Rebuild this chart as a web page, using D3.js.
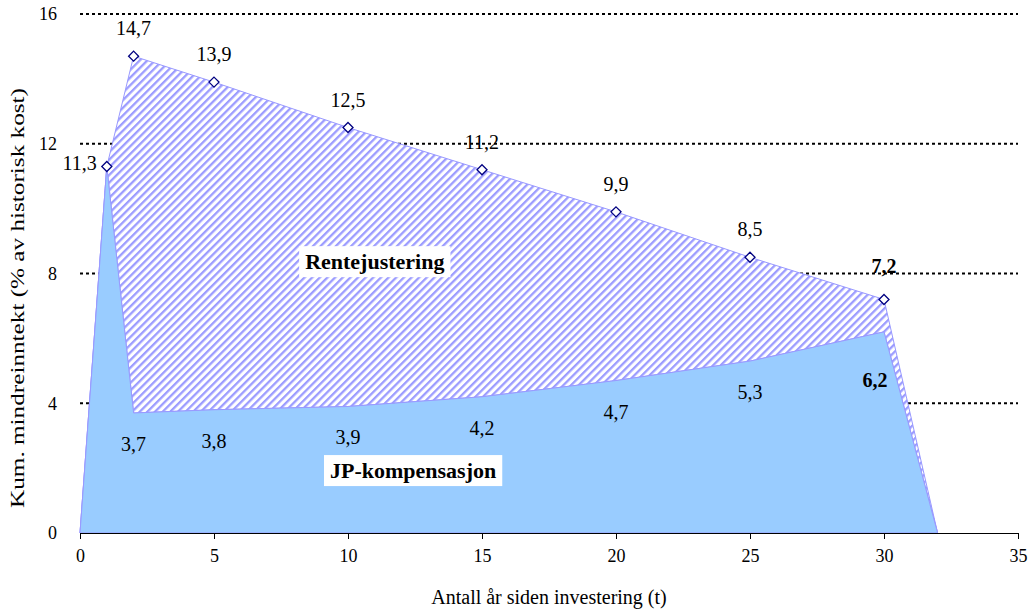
<!DOCTYPE html>
<html>
<head>
<meta charset="utf-8">
<script src="https://cdn.jsdelivr.net/npm/d3@7"></script>
<style>
  body { margin: 0; background: #fff; }
  text { font-family: "Liberation Serif", "Times New Roman", serif; fill: #000; }
</style>
</head>
<body>
<svg id="chart"></svg>
<script>
// år siden investering og kumulative verdier
const years = [0, 1, 2, 5, 10, 15, 20, 25, 30, 32];
const jpKomp = [0, 11.3, 3.7, 3.8, 3.9, 4.2, 4.7, 5.3, 6.2, 0];
const totalt = [0, 11.3, 14.7, 13.9, 12.5, 11.2, 9.9, 8.5, 7.2, 0];
const xTicks = [0, 5, 10, 15, 20, 25, 30, 35];
const yTicks = [0, 4, 8, 12, 16];
const boxLabels = ["Rentejustering", "JP-kompensasjon"];
const boxAt = [[11.0, 8.38], [12.43, 1.94]];

const width = 1031, height = 611;
const svg = d3.select("#chart")
    .attr("width", width)
    .attr("height", height);

const x = d3.scaleLinear().domain([0, 35]).range([80, 1018]);
const y = d3.scaleLinear().domain([0, 16]).range([533, 14]);

const fmt = v => String(v).replace(".", ",");

// hatch pattern for rentejustering
const defs = svg.append("defs");
defs.append("pattern")
    .attr("id", "hatch")
    .attr("patternUnits", "userSpaceOnUse")
    .attr("width", 5.4)
    .attr("height", 5.4)
    .attr("patternTransform", "rotate(45)")
  .call(p => {
    p.append("rect").attr("width", 5.4).attr("height", 5.4).attr("fill", "#fff");
    p.append("rect").attr("width", 2.3).attr("height", 5.4).attr("fill", "#9c9cff");
  });

// gridlines
svg.append("g")
    .selectAll("line")
    .data(yTicks.filter(d => d > 0))
    .enter()
    .append("line")
    .attr("x1", x(0))
    .attr("x2", x(35))
    .attr("y1", d => y(d))
    .attr("y2", d => y(d))
    .attr("stroke", "#000")
    .attr("stroke-width", 2.2)
    .attr("stroke-dasharray", "3,3");

const idx = d3.range(years.length);

const hatchArea = d3.area()
    .x(i => x(years[i]))
    .y0(i => y(jpKomp[i]))
    .y1(i => y(totalt[i]));

svg.append("path")
    .datum(idx)
    .attr("d", hatchArea)
    .attr("fill", "url(#hatch)")
    .attr("stroke", "#9999ff")
    .attr("stroke-width", 1);

const blueArea = d3.area()
    .x(i => x(years[i]))
    .y0(y(0))
    .y1(i => y(jpKomp[i]));

svg.append("path")
    .datum(idx)
    .attr("d", blueArea)
    .attr("fill", "#99ccff")
    .attr("stroke", "#9999ff")
    .attr("stroke-width", 1);

// x axis
const xAxis = d3.axisBottom(x)
    .tickValues(xTicks)
    .tickSize(6)
    .tickSizeOuter(0)
    .tickPadding(10)
    .tickFormat(d3.format("d"));

svg.append("g")
    .attr("transform", "translate(0," + y(0) + ")")
    .call(xAxis)
    .call(g => g.selectAll("text")
        .attr("font-family", "Liberation Serif")
        .attr("font-size", 18)
        .attr("fill", "#000"));

// y tick labels (no axis line)
const yAxis = d3.axisLeft(y)
    .tickValues(yTicks)
    .tickSize(0)
    .tickPadding(23)
    .tickFormat(d3.format("d"));

svg.append("g")
    .attr("transform", "translate(" + x(0) + ",0)")
    .call(yAxis)
    .call(g => g.select(".domain").remove())
    .call(g => g.selectAll("text")
        .attr("font-family", "Liberation Serif")
        .attr("font-size", 18)
        .attr("fill", "#000"));

// markers on the upper series
const marked = idx.filter(i => i > 0 && i < years.length - 1);
svg.append("g")
    .selectAll("path")
    .data(marked)
    .enter()
    .append("path")
    .attr("d", d3.symbol(d3.symbolDiamond2, 64)())
    .attr("transform", i => "translate(" + x(years[i]) + "," + y(totalt[i]) + ")")
    .attr("fill", "#fff")
    .attr("stroke", "#000080")
    .attr("stroke-width", 1.3);

const last = years.length - 2;

// labels upper series
svg.append("g")
    .selectAll("text")
    .data(marked)
    .enter()
    .append("text")
    .attr("x", i => i === 1 ? x(years[i]) - 10 : x(years[i]))
    .attr("y", i => i === 1 ? y(totalt[i]) + 4 : y(totalt[i]) - (i === last ? 26 : 21))
    .attr("text-anchor", i => i === 1 ? "end" : "middle")
    .attr("font-size", 20)
    .attr("font-weight", i => i === last ? "bold" : "normal")
    .text(i => fmt(totalt[i]));

// labels lower series
svg.append("g")
    .selectAll("text")
    .data(marked.filter(i => i > 1))
    .enter()
    .append("text")
    .attr("x", i => i === last ? x(years[i]) - 9 : x(years[i]))
    .attr("y", i => y(jpKomp[i]) + (i === last ? 55 : 38))
    .attr("text-anchor", "middle")
    .attr("font-size", 20)
    .attr("font-weight", i => i === last ? "bold" : "normal")
    .text(i => fmt(jpKomp[i]));

// boxed area labels
boxLabels.forEach((lab, k) => {
  const g = svg.append("g");
  const t = g.append("text")
      .attr("x", x(boxAt[k][0]))
      .attr("y", y(boxAt[k][1]) + 8)
      .attr("text-anchor", "middle")
      .attr("font-size", 22)
      .attr("font-weight", "bold")
      .text(lab);
  const b = t.node().getBBox();
  g.insert("rect", "text")
      .attr("x", b.x - 6)
      .attr("y", b.y - 3)
      .attr("width", b.width + 12)
      .attr("height", b.height + 6)
      .attr("fill", "#fff");
});

// axis titles
svg.append("text")
    .attr("x", x(17.5))
    .attr("y", 604)
    .attr("text-anchor", "middle")
    .attr("font-size", 20)
    .text("Antall år siden investering (t)");

svg.append("text")
    .attr("transform", "translate(24,298) rotate(-90)")
    .attr("text-anchor", "middle")
    .attr("font-size", 19)
    .attr("textLength", 420)
    .attr("lengthAdjust", "spacingAndGlyphs")
    .text("Kum. mindreinntekt (% av historisk kost)");
</script>
</body>
</html>
